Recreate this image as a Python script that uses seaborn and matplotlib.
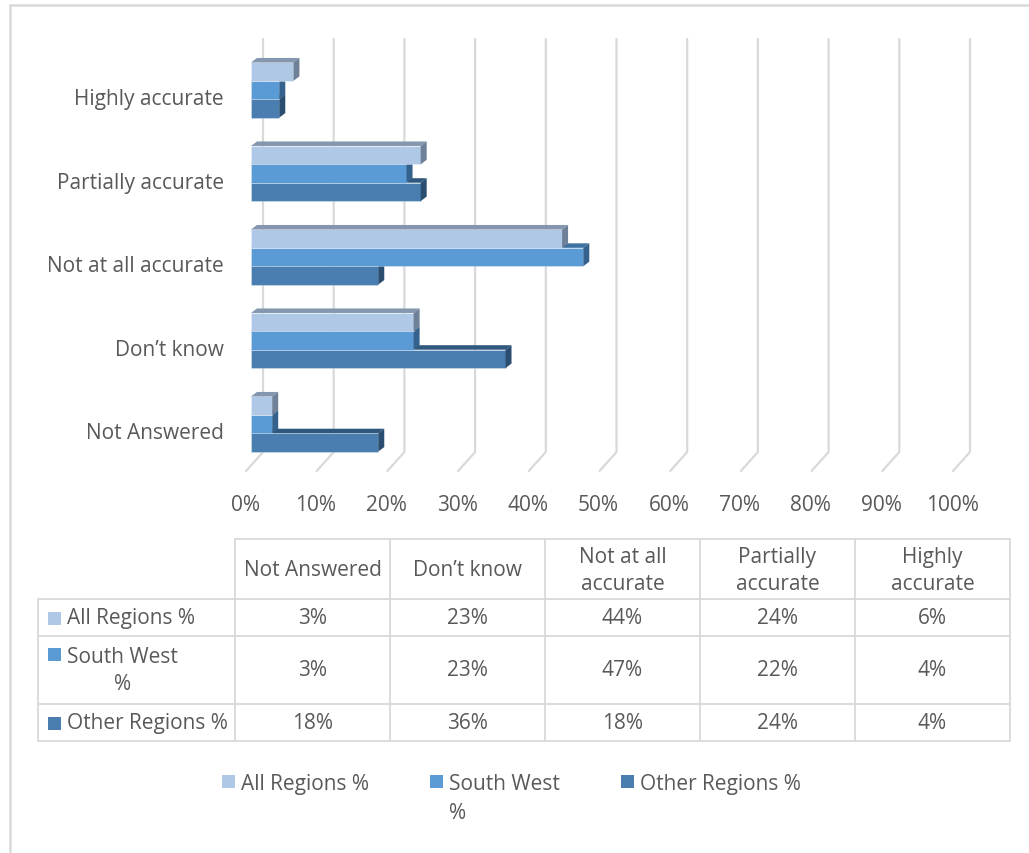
import numpy as np
import pandas as pd
import matplotlib
matplotlib.use("Agg")
import matplotlib.pyplot as plt
import matplotlib.transforms as mtransforms
import seaborn as sns
from matplotlib.patches import Polygon, Rectangle
from matplotlib.lines import Line2D

# ---------------- data ----------------
categories = ["Not Answered", "Don\u2019t know", "Not at all accurate",
              "Partially accurate", "Highly accurate"]
series = ["All Regions %", "South West %", "Other Regions %"]
all_regions = [3, 23, 44, 24, 6]
south_west = [3, 23, 47, 22, 4]
other_regions = [18, 36, 18, 24, 4]
x_ticks = [0, 10, 20, 30, 40, 50, 60, 70, 80, 90, 100]
x_tick_labels = [f"{t}%" for t in x_ticks]
table_headers = ["Not Answered", "Don\u2019t know", "Not at all\naccurate",
                 "Partially\naccurate", "Highly\naccurate"]
series_display = ["All Regions %", "South West\n%", "Other Regions %"]

front_colors = ["#AFC8E5", "#5B9BD5", "#4A7EB1"]
top_colors = ["#8497AE", "#3F72A2", "#30587E"]
side_colors = ["#6E8198", "#35628D", "#2A4D70"]
text_color = "#595959"
grid_color = "#D9D9D9"

sns.set_theme(style="white")
plt.rcParams["font.family"] = ["Open Sans", "DejaVu Sans"]

W, H = 1029, 854
fig = plt.figure(figsize=(W / 100, H / 100), dpi=100)

def fig_rect(left, top, right, bottom):
    return [left / W, 1 - bottom / H, (right - left) / W, (bottom - top) / H]

# ---------------- main bar chart ----------------
ax = fig.add_axes(fig_rect(251, 40, 958, 460))
order = categories[::-1]
df = pd.DataFrame({
    "category": categories * 3,
    "series": np.repeat(series, len(categories)),
    "value": all_regions + south_west + other_regions,
})
sns.barplot(data=df, y="category", x="value", hue="series", order=order,
            hue_order=series, palette=front_colors, width=0.66, gap=0,
            orient="h", legend=False, ax=ax, saturation=1, edgecolor="none")
for s in ax.spines.values():
    s.set_visible(False)

px_x = 7.07          # pixels per percent
px_y = 83.5          # pixels per category
dx = 6 / px_x
dy = 4.5 / px_y
Y_TOP, Y_BOT = -0.611, 4.419

ax.set_xticks(x_ticks)
ax.set_xticklabels(x_tick_labels)
ax.set_yticks(range(len(order)))
ax.set_yticklabels(order)
ax.set_xlim(0, 100)
ax.set_ylim(Y_BOT, Y_TOP)
ax.tick_params(axis="x", length=0, pad=25, labelsize=15, labelcolor=text_color)
ax.tick_params(axis="y", length=0, pad=19.5, labelsize=15, labelcolor=text_color)
ax.set_xlabel("")
ax.set_ylabel("")

# shift tick labels to follow the 3-D floor
x_shift = mtransforms.ScaledTranslation(-6 / 100, 0, fig.dpi_scale_trans)
y_shift = mtransforms.ScaledTranslation(0, -6 / 100, fig.dpi_scale_trans)
for lbl in ax.get_xticklabels():
    lbl.set_transform(lbl.get_transform() + x_shift)
for lbl in ax.get_yticklabels():
    lbl.set_transform(lbl.get_transform() + y_shift)

# 3D faces
for cont, tc, sc in zip(ax.containers, top_colors, side_colors):
    for p in cont.patches:
        x0 = p.get_x()
        x1 = x0 + p.get_width()
        yt = p.get_y()
        yb = yt + p.get_height()
        z = 10 - (yt + yb) / 2
        p.set_zorder(z)
        p.set_edgecolor((1, 1, 1, 0.3))
        p.set_linewidth(0.7)
        top = Polygon([(x0, yt), (x0 + dx, yt - dy), (x1 + dx, yt - dy), (x1, yt)],
                      closed=True, facecolor=tc, edgecolor="none", zorder=z + 0.01)
        side = Polygon([(x1, yt), (x1 + dx, yt - dy), (x1 + dx, yb - dy), (x1, yb)],
                       closed=True, facecolor=sc, edgecolor="none", zorder=z + 0.01)
        ax.add_patch(top)
        ax.add_patch(side)

# back-wall gridlines with slanted floor segments
gx = 12 / px_x
y_low = Y_BOT - 7 / px_y
y_floor = Y_BOT + 12 / px_y
for t in x_ticks:
    ax.add_line(Line2D([t + gx, t + gx, t + gx - 17 / px_x],
                       [Y_TOP, y_low, y_floor], color=grid_color, lw=1.6,
                       zorder=1, clip_on=False))

# ---------------- overlay: border, data table, legend ----------------
ov = fig.add_axes([0, 0, 1, 1], zorder=-1)
ov.set_xlim(0, W)
ov.set_ylim(H, 0)
ov.axis("off")

ov.add_line(Line2D([10, W], [6, 6], color=grid_color, lw=1.8))
ov.add_line(Line2D([10, 10], [6, H], color=grid_color, lw=1.8))

col_edges = [235, 390, 545, 700, 855, 1010]
row_edges = [540, 600, 637, 705, 742]
tl = dict(color=grid_color, lw=1.3)
ov.add_line(Line2D([col_edges[0], col_edges[-1]], [row_edges[0]] * 2, **tl))
for r in row_edges[1:]:
    ov.add_line(Line2D([38, col_edges[-1]], [r, r], **tl))
ov.add_line(Line2D([38, 38], [row_edges[1], row_edges[-1]], **tl))
for c in col_edges:
    ov.add_line(Line2D([c, c], [row_edges[0], row_edges[-1]], **tl))

fs = 15
for j, h in enumerate(table_headers):
    cx = (col_edges[j] + col_edges[j + 1]) / 2
    ov.text(cx, 571, h, ha="center", va="center", fontsize=fs, color=text_color,
            multialignment="center", linespacing=1.4)

table_rows = [all_regions, south_west, other_regions]
for i, (vals, name, fc) in enumerate(zip(table_rows, series_display, front_colors)):
    cy = (row_edges[i + 1] + row_edges[i + 2]) / 2
    for j, v in enumerate(vals):
        cx = (col_edges[j] + col_edges[j + 1]) / 2
        ov.text(cx, cy, f"{v}%", ha="center", va="center", fontsize=fs, color=text_color)
    if "\n" in name:
        ov.add_patch(Rectangle((48, 649), 13, 13, facecolor=fc, edgecolor="none"))
        ov.text(67, cy, name, ha="left", va="center", fontsize=fs, color=text_color,
                multialignment="center", linespacing=1.4)
    else:
        ov.add_patch(Rectangle((48, cy - 6), 13, 13, facecolor=fc, edgecolor="none"))
        ov.text(67, cy, name, ha="left", va="center", fontsize=fs, color=text_color)

# bottom legend
leg_x = [222, 430, 621]
for x, name, fc in zip(leg_x, series_display, front_colors):
    ov.add_patch(Rectangle((x, 776), 13, 13, facecolor=fc, edgecolor="none"))
    ov.text(x + 19, 774, name, ha="left", va="top", fontsize=fs, color=text_color,
            multialignment="left", linespacing=1.5)

fig.savefig("out.png", dpi=100)
